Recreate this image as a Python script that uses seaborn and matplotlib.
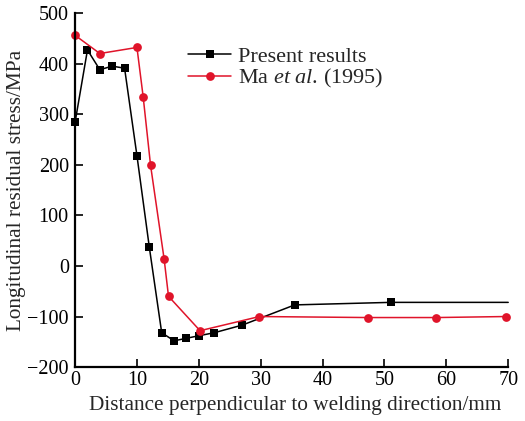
import matplotlib
matplotlib.use("Agg")
import matplotlib.pyplot as plt
import seaborn as sns
import pandas as pd

# Present results (last point only extends the line, no marker)
present_x = [0, 2, 4, 6, 8, 10, 12, 14, 16, 18, 20, 22.5, 27, 35.5, 51, 70]
present_y = [284, 427, 388, 395, 391, 218, 37, -132, -148, -143, -138, -132, -117, -77, -72, -72]

# Ma et al. (1995)
ma_x = [0, 4, 10, 11, 12.2, 14.4, 15.1, 20.2, 29.8, 47.3, 58.4, 69.6]
ma_y = [456, 420, 432, 335, 199, 13, -60, -128, -100, -102, -102, -100]

x_ticks = [0, 10, 20, 30, 40, 50, 60, 70]
y_ticks = [-200, -100, 0, 100, 200, 300, 400, 500]

sns.set_theme(style="ticks")
plt.rcParams["font.family"] = ["Liberation Serif", "DejaVu Serif"]
plt.rcParams["mathtext.fontset"] = "custom"
plt.rcParams["mathtext.rm"] = "Liberation Serif"
plt.rcParams["mathtext.it"] = "Liberation Serif:italic"

df_present = pd.DataFrame({"x": present_x, "y": present_y})
df_ma = pd.DataFrame({"x": ma_x, "y": ma_y})

fig = plt.figure(figsize=(5.25, 4.21), dpi=100)
ax = fig.add_axes([0.143, 0.128, 0.825, 0.841])

sns.lineplot(data=df_present, x="x", y="y", ax=ax, color="black", marker="s",
             markersize=5.5, linewidth=1.1, markeredgewidth=0, sort=False,
             markevery=list(range(len(present_x) - 1)), clip_on=False,
             label="Present results")
sns.lineplot(data=df_ma, x="x", y="y", ax=ax, color="#e0142a", marker="o",
             markersize=6.3, linewidth=1.1, markeredgewidth=0, sort=False,
             clip_on=False, label=r"Ma $\mathit{et\ al}$. (1995)")

ax.set_xlim(0, 70)
ax.set_ylim(-200, 500)
ax.set_xticks(x_ticks)
ax.set_yticks(y_ticks)
ax.set_yticklabels([str(v).replace("-", "\u2212") for v in y_ticks])
ax.tick_params(direction="in", length=6, width=1.2, labelsize=14.5, colors="black")
ax.tick_params(axis="x", pad=3)
ax.tick_params(axis="y", pad=4.5)
for s in ["top", "right"]:
    ax.spines[s].set_visible(False)
for s in ["left", "bottom"]:
    ax.spines[s].set_linewidth(1.6)
    ax.spines[s].set_color("black")

ax.set_xlabel("Distance perpendicular to welding direction/mm", fontsize=15.3)
ax.set_ylabel("Longitudinal residual stress/MPa", fontsize=15.3, labelpad=1)
ax.xaxis.set_label_coords(0.508, -0.083, transform=ax.transAxes)
ax.xaxis.label.set_verticalalignment("top")

ax.legend(loc="upper left", bbox_to_anchor=(0.261, 0.905), frameon=False, fontsize=16,
          handlelength=1.95, handletextpad=0.3, labelspacing=0.0, borderaxespad=0,
          borderpad=0)

fig.savefig("out.png", dpi=100)
